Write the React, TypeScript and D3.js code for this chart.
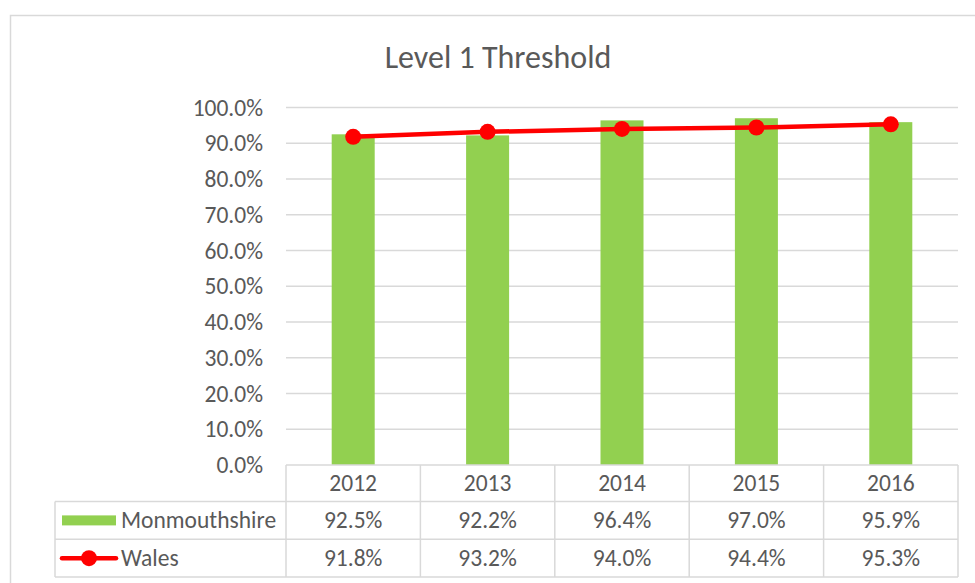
import React from "react";
import * as d3 from "d3";

const years = ["2012", "2013", "2014", "2015", "2016"];
const monmouthshire = [0.925, 0.922, 0.964, 0.97, 0.959];
const wales = [0.918, 0.932, 0.94, 0.944, 0.953];
const yTicks = [0, 0.1, 0.2, 0.3, 0.4, 0.5, 0.6, 0.7, 0.8, 0.9, 1.0];
const seriesNames = ["Monmouthshire", "Wales"];
const title = "Level 1 Threshold";

const W = 975;
const H = 583;
const FONT = "Carlito, Lato, 'Open Sans', sans-serif";
const TXT = "#595959";
const GRID = "#d9d9d9";
const GREEN = "#92d050";
const RED = "#ff0000";
const FS = 23.5;

export default function App() {
  const x = d3.scaleBand<string>().domain(years).range([286, 958]).padding(0);
  const y = d3.scaleLinear().domain([0, 1]).range([465, 107.5]);
  const bw = x.bandwidth() * 0.32;
  const pct = d3.format(".1%");
  const rowTop = 465;
  const rowYs = [465, 501.5, 539.3, 577];
  const legendLeft = 55;
  const cx = (yr: string) => (x(yr) as number) + x.bandwidth() / 2;
  const line = d3
    .line<number>()
    .x((_, i) => cx(years[i]))
    .y((d) => y(d));
  const mid = (a: number, b: number) => (a + b) / 2;

  return (
    <svg
      width={W}
      height={H}
      style={{ position: "fixed", left: 0, top: 0, background: "#fff" }}
      fontFamily={FONT}
    >
      <rect x={10.5} y={15.5} width={1000} height={620} fill="#fff" stroke={GRID} strokeWidth={1.5} />
      <text x={498} y={57} textAnchor="middle" dominantBaseline="central" fontSize={32} fill={TXT}>
        {title}
      </text>
      {yTicks.map((t) => (
        <g key={t}>
          {t > 0 && <line x1={286} x2={958} y1={y(t)} y2={y(t)} stroke={GRID} strokeWidth={1.5} />}
          <text x={263} y={y(t)} textAnchor="end" dominantBaseline="central" fontSize={FS} fill={TXT}>
            {pct(t)}
          </text>
        </g>
      ))}
      {years.map((yr, i) => (
        <rect
          key={yr}
          x={cx(yr) - bw / 2}
          y={y(monmouthshire[i])}
          width={bw}
          height={y(0) - y(monmouthshire[i])}
          fill={GREEN}
        />
      ))}
      <path d={line(wales) || ""} fill="none" stroke={RED} strokeWidth={4.5} strokeLinecap="round" />
      {years.map((yr, i) => (
        <circle key={yr} cx={cx(yr)} cy={y(wales[i])} r={8} fill={RED} />
      ))}
      {/* data table */}
      <line x1={286} x2={958} y1={rowTop} y2={rowTop} stroke={GRID} strokeWidth={1.5} />
      {rowYs.slice(1).map((ry) => (
        <line key={ry} x1={legendLeft} x2={958} y1={ry} y2={ry} stroke={GRID} strokeWidth={1.5} />
      ))}
      <line x1={legendLeft} x2={legendLeft} y1={rowYs[1]} y2={rowYs[3]} stroke={GRID} strokeWidth={1.5} />
      {[...years.map((yr) => x(yr) as number), 958].map((vx) => (
        <line key={vx} x1={vx} x2={vx} y1={rowTop} y2={rowYs[3]} stroke={GRID} strokeWidth={1.5} />
      ))}
      {years.map((yr, i) => (
        <g key={yr}>
          <text x={cx(yr)} y={mid(rowYs[0], rowYs[1])} textAnchor="middle" dominantBaseline="central" fontSize={FS} fill={TXT}>
            {yr}
          </text>
          <text x={cx(yr)} y={mid(rowYs[1], rowYs[2])} textAnchor="middle" dominantBaseline="central" fontSize={FS} fill={TXT}>
            {pct(monmouthshire[i])}
          </text>
          <text x={cx(yr)} y={mid(rowYs[2], rowYs[3])} textAnchor="middle" dominantBaseline="central" fontSize={FS} fill={TXT}>
            {pct(wales[i])}
          </text>
        </g>
      ))}
      {/* legend keys */}
      <rect x={62} y={(rowYs[1] + rowYs[2]) / 2 - 5} width={54} height={10} fill={GREEN} />
      <line x1={62} x2={116} y1={(rowYs[2] + rowYs[3]) / 2} y2={(rowYs[2] + rowYs[3]) / 2} stroke={RED} strokeWidth={4.5} strokeLinecap="round" />
      <circle cx={89} cy={(rowYs[2] + rowYs[3]) / 2} r={8} fill={RED} />
      <text x={121} y={mid(rowYs[1], rowYs[2])} dominantBaseline="central" fontSize={FS} fill={TXT}>
        {seriesNames[0]}
      </text>
      <text x={121} y={mid(rowYs[2], rowYs[3])} dominantBaseline="central" fontSize={FS} fill={TXT}>
        {seriesNames[1]}
      </text>
    </svg>
  );
}
